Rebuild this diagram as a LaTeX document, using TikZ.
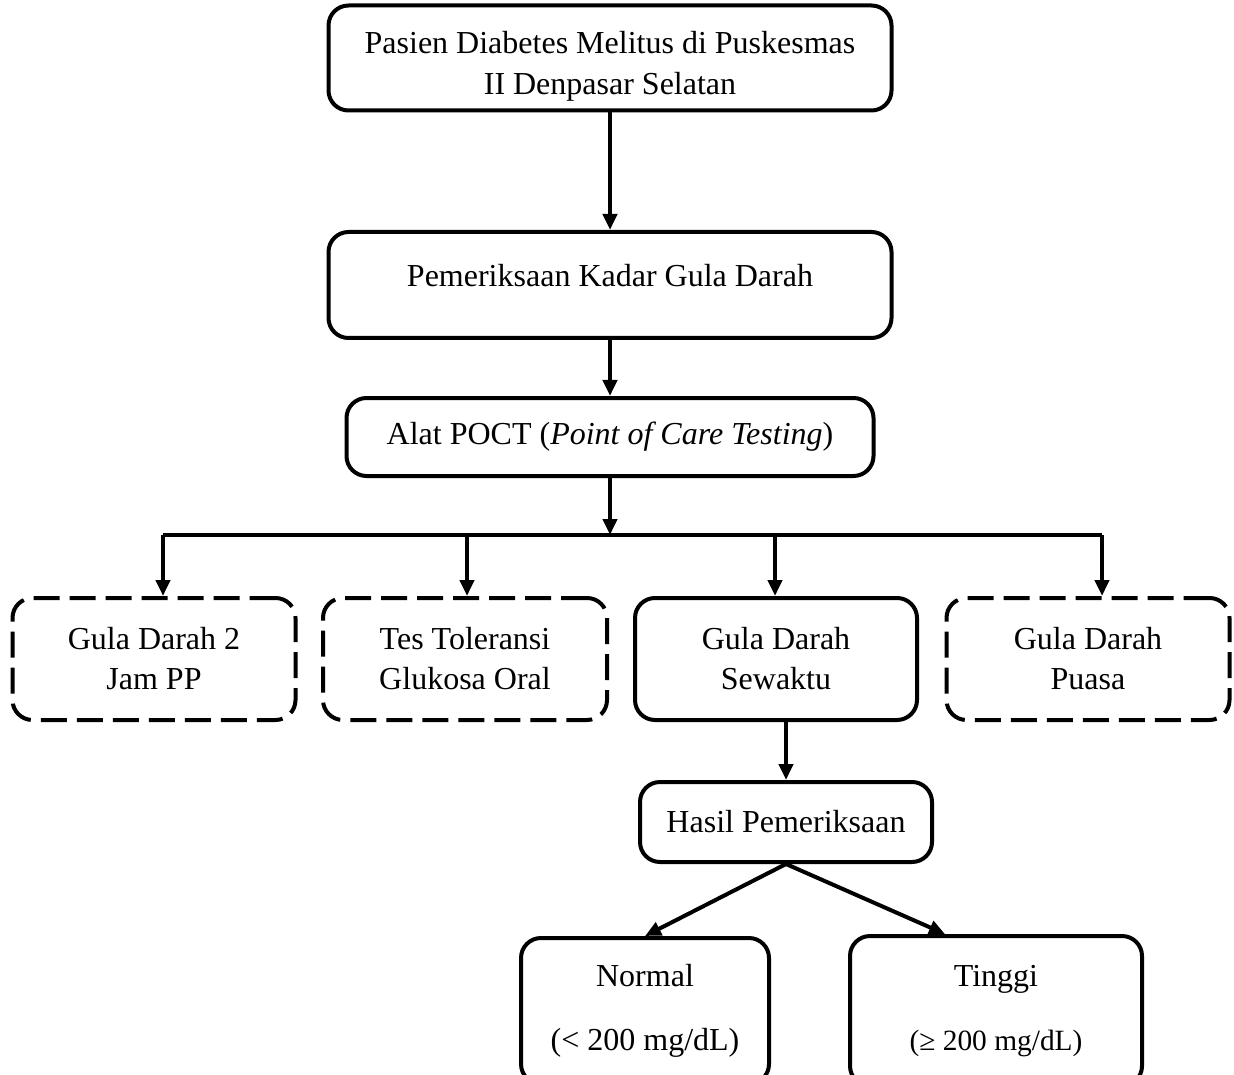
\documentclass[tikz,border=0pt]{standalone}
\usepackage{fontspec}
\setmainfont{Liberation Serif}
\usetikzlibrary{arrows.meta}
\begin{document}
\begin{tikzpicture}[x=0.5pt, y=-0.5pt, line width=2pt, line join=round, >={Triangle[length=8pt,width=7pt]},
	font=\fontsize{16}{20}\selectfont,
	kotak/.style={draw, rounded corners=10pt, align=center, inner sep=2pt},
	putus/.style={kotak, dash pattern=on 13pt off 5pt}]
	\useasboundingbox (0,0) rectangle (1234,1074);
	\clip (0,0) rectangle (1234,1074);
	\node[kotak, minimum width=281.5pt, minimum height=52.5pt, text height=40pt, font=\fontsize{16}{20.5}\selectfont] (pasien) at (610,58) {Pasien Diabetes Melitus di Puskesmas\\II Denpasar Selatan};
	\node[kotak, minimum width=281.5pt, minimum height=53pt, text depth=10pt] (periksa) at (610,285) {Pemeriksaan Kadar Gula Darah};
	\node[kotak, minimum width=263.5pt, minimum height=39pt] (poct) at (610,437) {Alat POCT (\textit{Point of Care Testing})};
	\node[putus, minimum width=141.5pt, minimum height=61pt] (gd2) at (154,659) {Gula Darah 2\\Jam PP};
	\node[putus, minimum width=142pt, minimum height=61pt] (ttgo) at (465,659) {Tes Toleransi\\Glukosa Oral};
	\node[kotak, minimum width=141pt, minimum height=61pt] (gds) at (776,659) {Gula Darah\\Sewaktu};
	\node[putus, minimum width=141.5pt, minimum height=61pt] (gdp) at (1088,659) {Gula Darah\\Puasa};
	\node[kotak, minimum width=146pt, minimum height=40pt] (hasil) at (786,822) {Hasil Pemeriksaan};
	\node[kotak, minimum width=124pt, minimum height=73pt] (normal) at (645,1011) {Normal\\[12pt](< 200 mg/dL)};
	\node[kotak, minimum width=146pt, minimum height=75pt] (tinggi) at (996,1011) {Tinggi\\[12pt]{\fontsize{14.7}{20}\selectfont(≥ 200 mg/dL)}};
	\coordinate (split) at (610,535);
	\coordinate (c1) at (163,535); \coordinate (c2) at (467,535);
	\coordinate (c3) at (775,535); \coordinate (c4) at (1102,535);
	\coordinate (tx) at (945,0);
	\draw[->] (pasien) -- (periksa);
	\draw[->] (periksa) -- (poct);
	\draw[->] (poct) -- (split);
	\draw (c1) -- (c4);
	\draw[->] (c1) -- (c1 |- gd2.north);
	\draw[->] (c2) -- (c2 |- ttgo.north);
	\draw[->] (c3) -- (c3 |- gds.north);
	\draw[->] (c4) -- (c4 |- gdp.north);
	\draw[->] (gds.south -| hasil) -- (hasil);
	\draw[->] (hasil.south) -- (normal.north);
	\draw[->] (hasil.south) -- (tinggi.north -| tx);
\end{tikzpicture}
\end{document}
